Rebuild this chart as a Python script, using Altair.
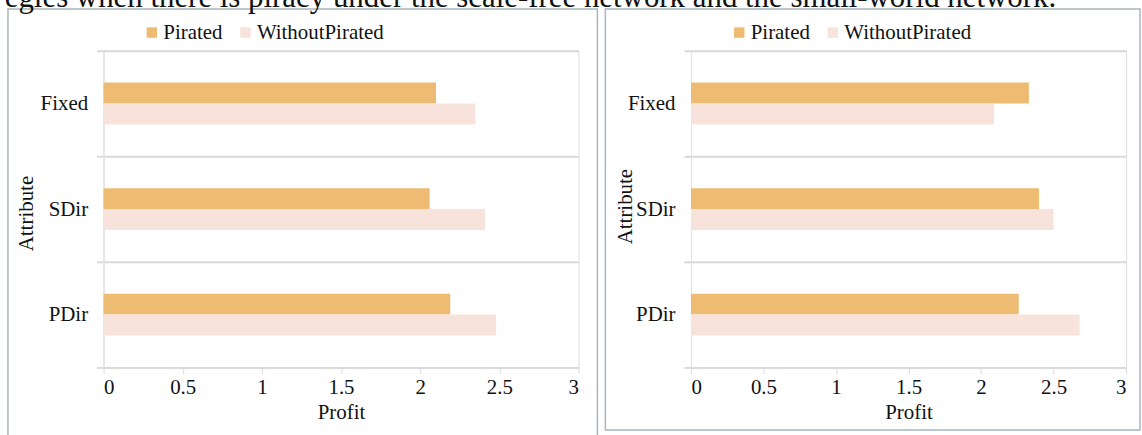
import altair as alt
import pandas as pd

# Profit per attribute, with and without piracy, for the two network types
attributes = ["Fixed", "SDir", "PDir"]
series = ["Pirated", "WithoutPirated"]
left_pirated = [2.10, 2.06, 2.19]
left_without = [2.35, 2.41, 2.48]
right_pirated = [2.33, 2.40, 2.26]
right_without = [2.09, 2.50, 2.68]
x_ticks = [0, 0.5, 1, 1.5, 2, 2.5, 3]
caption = "egies when there is piracy under the scale-free network and the small-world network."

colors = ["#EEBB72", "#F7E3DC"]
FONT = "Liberation Serif"
INK = "#111111"
GRID = "#d9d9d9"
FRAME = "#a7b7bf"
PLOT_H = 318
BAND = PLOT_H / 3


def panel(pirated, without, width, frame_l, frame_r, frame_b, title_x, title_y, legend_x):
    df = pd.DataFrame({
        "Attribute": attributes * 2,
        "Series": [series[0]] * len(attributes) + [series[1]] * len(attributes),
        "Profit": pirated + without,
    })
    bars = alt.Chart(df).mark_bar().encode(
        x=alt.X(
            "Profit:Q",
            scale=alt.Scale(domain=[0, 3], nice=False, zero=True),
            axis=alt.Axis(
                values=x_ticks, format="~g", title="Profit", grid=False,
                domainColor=GRID, domainWidth=2, tickColor=GRID, tickSize=6,
                labelFont=FONT, labelFontSize=21, labelColor=INK, labelPadding=3,
                titleFont=FONT, titleFontSize=21, titleFontWeight="normal",
                titleColor=INK, titlePadding=4,
            ),
        ),
        y=alt.Y(
            "Attribute:N", sort=attributes,
            scale=alt.Scale(paddingInner=0, paddingOuter=0),
            axis=alt.Axis(
                tickBand="extent", grid=True, gridColor=GRID, gridWidth=2,
                tickColor=GRID, tickSize=7, tickWidth=2, domainColor="#dde4e8",
                labelFont=FONT, labelFontSize=21, labelColor=INK, labelPadding=9,
                title="Attribute", titleFont=FONT, titleFontSize=21,
                titleFontWeight="normal", titleColor=INK, titleAngle=270,
                titleX=title_x, titleY=title_y, titleAlign="center",
                titleBaseline="middle",
            ),
        ),
        yOffset=alt.YOffset(
            "Series:N", sort=series,
            scale=alt.Scale(paddingInner=0, paddingOuter=0,
                            range=[BAND / 2 - 21, BAND / 2 + 21]),
        ),
        color=alt.Color(
            "Series:N",
            scale=alt.Scale(domain=series, range=colors),
            legend=alt.Legend(
                orient="none", legendX=legend_x, legendY=-29,
                direction="horizontal", title=None, symbolType="square",
                symbolSize=110, symbolStrokeWidth=0, labelFont=FONT,
                labelFontSize=21, labelColor=INK, labelOffset=1,
                columnPadding=12,
            ),
        ),
    )
    frame = alt.Chart(pd.DataFrame({"k": [0]})).mark_rect(
        filled=False, stroke=FRAME, strokeWidth=1.5
    ).encode(
        x=alt.value(frame_l), x2=alt.value(width + frame_r),
        y=alt.value(-42), y2=alt.value(PLOT_H + frame_b),
    )
    return alt.layer(frame, bars).properties(width=width, height=PLOT_H)


left = panel(left_pirated, left_without, 477, -96, 19, 80, -77, 163, 38)
right = panel(right_pirated, right_without, 437, -86, 14, 63, -66, 156, 38)

chart = alt.hconcat(left, right, spacing=4).resolve_scale(
    color="independent"
).resolve_legend(color="independent").properties(
    title=alt.TitleParams(
        caption, anchor="start", font=FONT, fontSize=31,
        fontWeight="normal", color=INK, offset=-6, dx=-2,
    ),
    padding={"left": 4, "top": -20, "right": 0, "bottom": 0},
).configure_view(stroke=None).configure(background="white")

chart.save("out.html", embed_options={"renderer": "svg", "actions": False})
